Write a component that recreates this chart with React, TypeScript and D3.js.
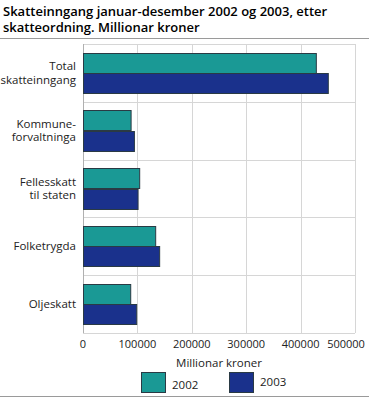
import { useRef, useEffect } from "react";
import * as d3 from "d3";

const categories = [
  ["Total", "skatteinngang"],
  ["Kommune-", "forvaltninga"],
  ["Fellesskatt", "til staten"],
  ["Folketrygda"],
  ["Oljeskatt"],
];
const years = ["2002", "2003"];
const values2002 = [428000, 87500, 103300, 132700, 86800];
const values2003 = [450000, 93600, 100300, 140000, 97800];
const xTicks = [0, 100000, 200000, 300000, 400000, 500000];
const colors = ["#1a9995", "#1a318c"];

const font = "'Open Sans', 'DejaVu Sans', sans-serif";

export default function App() {
  const ref = useRef<SVGSVGElement>(null);

  useEffect(() => {
    const W = 369, H = 397;
    const margin = { top: 44, right: 14, bottom: 64, left: 83 };
    const width = W - margin.left - margin.right;
    const height = H - margin.top - margin.bottom;

    const svg = d3.select(ref.current);
    svg.selectAll("*").remove();

    // title
    const title = svg.append("text")
      .attr("font-family", font)
      .attr("font-size", 13)
      .attr("font-weight", 600)
      .attr("fill", "#000");
    title.append("tspan").attr("x", 3).attr("y", 16).text("Skatteinngang januar-desember 2002 og 2003, etter");
    title.append("tspan").attr("x", 3).attr("y", 32).text("skatteordning. Millionar kroner");

    svg.append("line")
      .attr("x1", 0).attr("x2", W)
      .attr("y1", 38.5).attr("y2", 38.5)
      .attr("stroke", "#9a9a9a");
    svg.append("line")
      .attr("x1", 0).attr("x2", W)
      .attr("y1", 396.5).attr("y2", 396.5)
      .attr("stroke", "#9a9a9a");

    const g = svg.append("g").attr("transform", `translate(${margin.left},${margin.top})`);

    const x = d3.scaleLinear().domain([0, 500000]).range([0, width]);
    const idx = categories.map((_, i) => String(i));
    const y = d3.scaleBand().domain(idx).range([0, height]).padding(0);
    const y1 = d3.scaleBand().domain(years).range([0, y.bandwidth()]).paddingInner(0).paddingOuter(0.43);

    // grid
    g.selectAll(".vgrid").data(xTicks).enter().append("line")
      .attr("x1", (d) => Math.round(x(d)) + 0.5).attr("x2", (d) => Math.round(x(d)) + 0.5)
      .attr("y1", 0).attr("y2", height)
      .attr("stroke", "#d6d6d6");
    g.selectAll(".hgrid").data(d3.range(categories.length + 1)).enter().append("line")
      .attr("x1", 0).attr("x2", width)
      .attr("y1", (d) => Math.round(d * y.step()) + 0.5).attr("y2", (d) => Math.round(d * y.step()) + 0.5)
      .attr("stroke", "#d6d6d6");

    // axis line
    g.append("line")
      .attr("x1", 0.5).attr("x2", 0.5)
      .attr("y1", 0).attr("y2", height)
      .attr("stroke", "#b0b0b0");

    // bars
    const series = [values2002, values2003];
    series.forEach((vals, s) => {
      g.selectAll(`.bar${s}`).data(vals).enter().append("rect")
        .attr("x", 0.5)
        .attr("y", (_, i) => Math.round(y(String(i))! + y1(years[s])!) + 0.5)
        .attr("width", (d) => x(d))
        .attr("height", Math.round(y1.bandwidth()))
        .attr("fill", colors[s])
        .attr("stroke", "#2a3a44")
        .attr("stroke-width", 1);
    });

    // category labels
    categories.forEach((lines, i) => {
      const cy = y(String(i))! + y.bandwidth() / 2;
      const t = g.append("text")
        .attr("text-anchor", "end")
        .attr("font-family", font)
        .attr("font-size", 11.5)
        .attr("fill", "#222");
      const lh = 13.5;
      lines.forEach((l, j) => {
        t.append("tspan")
          .attr("x", -7)
          .attr("y", cy + (j - (lines.length - 1) / 2) * lh + 4)
          .text(l);
      });
    });

    // x axis labels (last one pulled in so it fits)
    const maxCenter = W - 4 - margin.left - 19;
    g.selectAll(".xl").data(xTicks).enter().append("text")
      .attr("x", (d) => Math.min(x(d), maxCenter))
      .attr("y", height + 15)
      .attr("text-anchor", "middle")
      .attr("font-family", font)
      .attr("font-size", 11)
      .attr("fill", "#222")
      .text((d) => String(d));

    g.append("text")
      .attr("x", width / 2)
      .attr("y", height + 34)
      .attr("text-anchor", "middle")
      .attr("font-family", font)
      .attr("font-size", 11.5)
      .attr("fill", "#222")
      .text("Millionar kroner");

    // legend
    const legendX = [141, 229];
    years.forEach((yr, s) => {
      svg.append("rect")
        .attr("x", legendX[s] + 0.5).attr("y", 372.5)
        .attr("width", 24).attr("height", 20)
        .attr("fill", colors[s])
        .attr("stroke", "#2a3a44");
      svg.append("text")
        .attr("x", legendX[s] + 31)
        .attr("y", s === 0 ? 389 : 386)
        .attr("font-family", font)
        .attr("font-size", 11.5)
        .attr("fill", "#222")
        .text(yr);
    });
  }, []);

  return (
    <svg ref={ref} width={369} height={397} style={{ position: "absolute", left: 0, top: 0 }} />
  );
}
